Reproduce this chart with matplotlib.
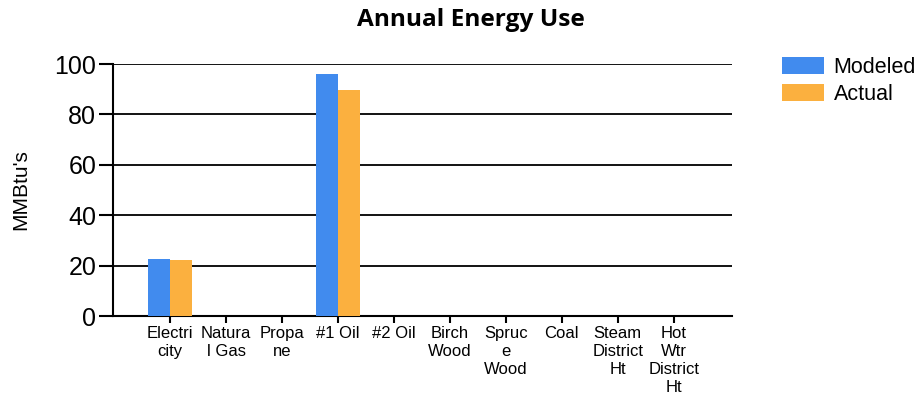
import numpy as np
import matplotlib.pyplot as plt

# Annual energy use, modeled vs actual (MMBtu's)
categories = ["Electri\ncity", "Natura\nl Gas", "Propa\nne", "#1 Oil", "#2 Oil",
              "Birch\nWood", "Spruc\ne\nWood", "Coal", "Steam\nDistrict\nHt",
              "Hot\nWtr\nDistrict\nHt"]
modeled = [22.6, 0, 0, 96.0, 0, 0, 0, 0, 0, 0]
actual = [22.2, 0, 0, 89.7, 0, 0, 0, 0, 0, 0]
yticks = [0, 20, 40, 60, 80, 100]

plt.rcParams["font.family"] = ["Liberation Sans", "DejaVu Sans"]

fig = plt.figure(figsize=(9.2, 3.93), dpi=100)
ax = fig.add_axes([0.1228, 0.1959, 0.6728, 0.6412])

x = np.arange(len(categories))
w = 0.4
ax.bar(x - w / 2, modeled, w, color="#418BEE", label="Modeled", zorder=3)
ax.bar(x + w / 2, actual, w, color="#FBB03F", label="Actual", zorder=3)

ax.set_xlim(-1.02, 10.04)
ax.set_ylim(0, 100)
ax.set_yticks(yticks)
ax.tick_params(axis="y", labelsize=18, length=10, width=1.5, pad=2)
ax.set_xticks(x)
ax.set_xticklabels(categories, fontsize=12, linespacing=1.25)
ax.tick_params(axis="x", length=5, width=1.5, pad=2)

for v in yticks[1:]:
    ax.axhline(v, color="black", lw=1.3, zorder=1)

for s in ["top", "right"]:
    ax.spines[s].set_visible(False)
for s in ["left", "bottom"]:
    ax.spines[s].set_linewidth(1.5)

ax.set_ylabel("MMBtu's", fontsize=15)
ax.yaxis.set_label_coords(-0.134, 0.5)
fig.text(0.512, 0.95, "Annual Energy Use", ha="center", va="center",
         fontsize=17.6, fontweight="bold", family="Open Sans")

fig.legend(loc="upper left", bbox_to_anchor=(0.85, 0.855), frameon=False,
           fontsize=15.5, handlelength=1.95, handleheight=0.84,
           labelspacing=0.3, handletextpad=0.45, borderaxespad=0,
           borderpad=0)

fig.savefig("out.png", dpi=100)
